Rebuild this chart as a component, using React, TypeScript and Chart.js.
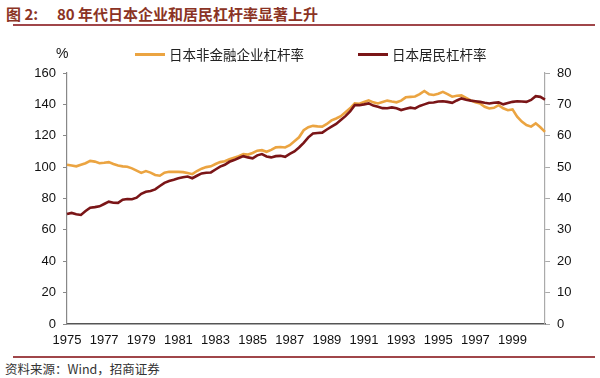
import React, { useEffect, useRef } from "react";
import { Chart, registerables } from "chart.js";

Chart.register(...registerables);

const startYear = 1975;
const endYear = 2000;
const yearLabelStep = 2;

const corporateName = "日本非金融企业杠杆率";
const householdName = "日本居民杠杆率";

// quarterly, 1975Q1 .. 2000Q4, left axis (%)
const corporateLeverage = [
  101.5, 101, 100.5, 101.5, 102.5, 104, 103.5, 102.5,
  102.8, 103.2, 102, 101, 100.5, 100.2, 99.2, 97.8,
  96.3, 97.5, 96.5, 95, 94.5, 96.5, 97, 97,
  97, 96.8, 96.2, 95.5, 97.5, 99, 100, 100.5,
  102, 103.2, 103.8, 105, 106, 107, 108.3, 108,
  109, 110.5, 110.8, 109.8, 111, 112.6, 112.8, 112.5,
  114, 116.5, 119, 123.5, 125.5, 126.3, 126, 125.8,
  127.5, 129.8, 131, 132.5, 135, 137.5, 140.6, 140.4,
  141.5, 142.6, 141.3, 140.6, 141.5, 142.4, 141.8, 141.3,
  142.4, 144.5, 144.8, 145, 146.5, 148.5, 146.5, 146,
  146.8, 148, 146.5, 144.9, 145.5, 145.7, 144.2, 142.5,
  141.3, 140.6, 138.5, 137.4, 137.8, 139.5, 137.5, 136.3,
  136.8, 132.1, 129, 126.8, 125.8, 127.9, 125.4, 122.5,
];

// quarterly, 1975Q1 .. 2000Q4, right axis (%)
const householdLeverage = [
  35.05, 35.4, 35, 34.75, 36, 37.05, 37.25, 37.5,
  38.25, 39, 38.65, 38.6, 39.6, 39.85, 39.75, 40.25,
  41.5, 42.15, 42.4, 42.9, 44, 45, 45.6, 46,
  46.45, 46.75, 47, 46.45, 47.25, 48, 48.2, 48.3,
  49.25, 50.15, 50.75, 51.7, 52.25, 52.9, 53.5, 53.1,
  52.8, 53.75, 54.15, 53.4, 53.1, 53.5, 53.6, 53.3,
  54.25, 55, 56.25, 57.75, 59.5, 60.75, 60.9, 61,
  62, 62.9, 63.75, 65, 66.25, 67.75, 69.75, 69.75,
  70, 70.3, 69.6, 69.25, 68.8, 68.75, 69.05, 68.75,
  68.2, 68.6, 68.95, 68.7, 69.5, 70, 70.5, 70.6,
  70.9, 71, 70.8, 70.5, 71.25, 71.9, 71.5, 71.2,
  71, 70.8, 70.5, 70.3, 70.5, 70.65, 70, 70.4,
  70.8, 71, 70.9, 70.8, 71.4, 72.6, 72.4, 71.55,
];

const leftTicks = [0, 20, 40, 60, 80, 100, 120, 140, 160];
const rightTicks = [0, 10, 20, 30, 40, 50, 60, 70, 80];

const quarterLabels: string[] = [];
for (let y = startYear; y <= endYear; y++) {
  for (let q = 1; q <= 4; q++) quarterLabels.push(`${y}Q${q}`);
}

const ORANGE = "#EBA441";
const DARKRED = "#7A1517";
const FONT = "'Liberation Sans', Arial, sans-serif";
const CJK = "'Noto Sans CJK SC', sans-serif";

export default function App() {
  const ref = useRef<HTMLCanvasElement>(null);

  useEffect(() => {
    if (!ref.current) return;
    const chart = new Chart(ref.current, {
      type: "line",
      data: {
        labels: quarterLabels,
        datasets: [
          {
            label: householdName,
            data: householdLeverage,
            borderColor: DARKRED,
            backgroundColor: DARKRED,
            borderWidth: 2.6,
            pointRadius: 0,
            tension: 0,
            yAxisID: "y1",
            order: 0,
          },
          {
            label: corporateName,
            data: corporateLeverage,
            borderColor: ORANGE,
            backgroundColor: ORANGE,
            borderWidth: 2.6,
            pointRadius: 0,
            tension: 0,
            yAxisID: "y",
            order: 1,
          },
        ],
      },
      options: {
        responsive: false,
        animation: false,
        devicePixelRatio: 1,
        layout: { padding: { top: 73, left: 0, right: 0, bottom: 0 } },
        plugins: { legend: { display: false }, tooltip: { enabled: false } },
        scales: {
          x: {
            type: "category",
            offset: false,
            grid: { display: false, drawTicks: false },
            border: { display: true, color: "#555", width: 1.5 },
            ticks: {
              autoSkip: false,
              maxRotation: 0,
              padding: 9,
              color: "#111",
              font: { family: FONT, size: 13 },
              callback: (_v: any, i: number) => {
                const yr = startYear + Math.floor(i / 4);
                return i % 4 === 0 && (yr - startYear) % yearLabelStep === 0 ? String(yr) : "";
              },
            },
            afterFit: (s: any) => {
              s.height = 26;
            },
          },
          y: {
            position: "left",
            min: leftTicks[0],
            max: leftTicks[leftTicks.length - 1],
            afterBuildTicks: (s: any) => {
              s.ticks = leftTicks.map((v) => ({ value: v }));
            },
            grid: { drawOnChartArea: false, drawTicks: true, tickLength: 4, color: "#888" },
            border: { display: true, color: "#888", width: 1.2 },
            ticks: { padding: 7, color: "#111", font: { family: FONT, size: 13 } },
            afterFit: (s: any) => {
              s.width = 67;
            },
          },
          y1: {
            position: "right",
            min: rightTicks[0],
            max: rightTicks[rightTicks.length - 1],
            afterBuildTicks: (s: any) => {
              s.ticks = rightTicks.map((v) => ({ value: v }));
            },
            grid: { drawOnChartArea: false, drawTicks: true, tickLength: 5, color: "#aaa" },
            border: { display: true, color: "#aaa", width: 1.2 },
            ticks: { padding: 7, color: "#111", font: { family: FONT, size: 13 } },
            afterFit: (s: any) => {
              s.width = 55;
            },
          },
        },
      },
    });
    return () => chart.destroy();
  }, []);

  const abs: React.CSSProperties = { position: "absolute", whiteSpace: "nowrap" };

  return (
    <div style={{ position: "absolute", left: 0, top: 0, width: 600, height: 378, background: "#fff", overflow: "hidden" }}>
      <div style={{ ...abs, left: 6, top: 4, fontFamily: CJK, fontWeight: 700, fontSize: 15, color: "#8B3324", lineHeight: "20px" }}>
        图 2:
      </div>
      <div style={{ ...abs, left: 57, top: 4, fontFamily: CJK, fontWeight: 700, fontSize: 15, color: "#8B3324", lineHeight: "20px" }}>
        80 年代日本企业和居民杠杆率显著上升
      </div>
      <div style={{ ...abs, left: 13, top: 24, width: 582, height: 2, background: "#A0464A" }} />
      <canvas ref={ref} width={600} height={350} style={{ position: "absolute", left: 0, top: 0, width: 600, height: 350 }} />
      <div style={{ ...abs, left: 56, top: 44, fontFamily: FONT, fontSize: 14, color: "#111", lineHeight: "18px" }}>%</div>
      <div style={{ ...abs, left: 135, top: 53, width: 30, height: 3, background: ORANGE }} />
      <div style={{ ...abs, left: 169, top: 45, fontFamily: CJK, fontSize: 13.5, color: "#222", lineHeight: "18px" }}>
        {corporateName}
      </div>
      <div style={{ ...abs, left: 358, top: 53, width: 30, height: 3, background: DARKRED }} />
      <div style={{ ...abs, left: 392, top: 45, fontFamily: CJK, fontSize: 13.5, color: "#222", lineHeight: "18px" }}>
        {householdName}
      </div>
      <div style={{ ...abs, left: 13, top: 356, width: 582, height: 2, background: "#A0464A" }} />
      <div style={{ ...abs, left: 5, top: 360, fontFamily: CJK, fontSize: 12.5, color: "#333", lineHeight: "17px" }}>
        资料来源：Wind，招商证券
      </div>
    </div>
  );
}
